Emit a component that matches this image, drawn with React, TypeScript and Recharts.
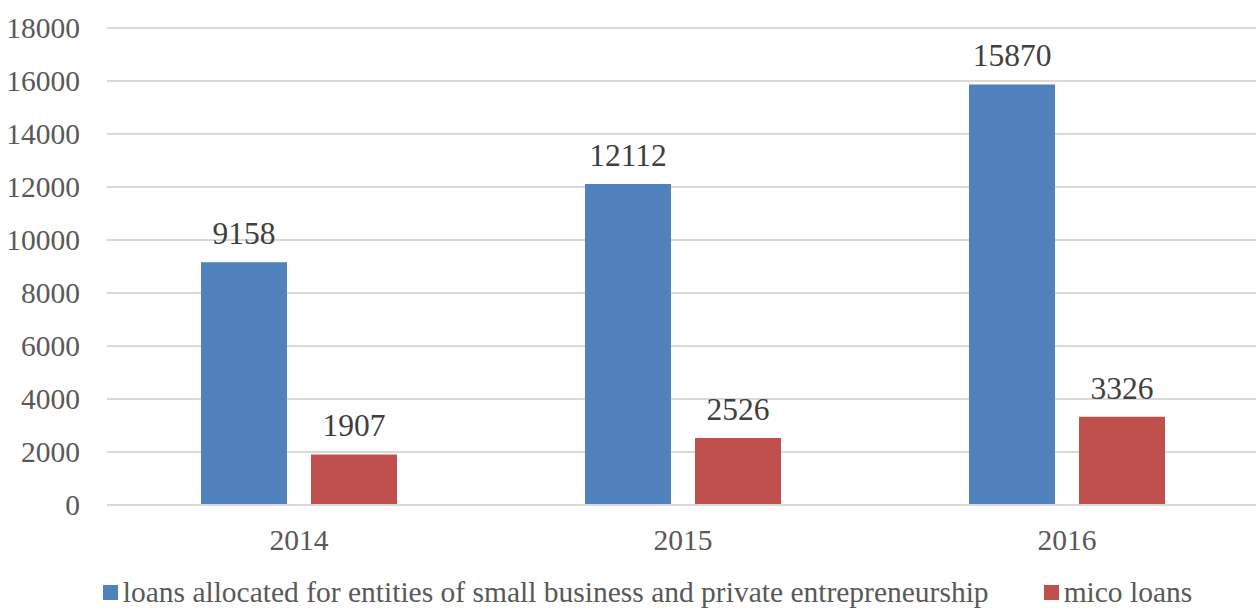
import { BarChart, Bar, XAxis, YAxis, CartesianGrid, Legend, LabelList } from "recharts"

const years = ["2014", "2015", "2016"]
const smallBusinessLoans = [9158, 12112, 15870]
const microLoans = [1907, 2526, 3326]
const yTicks = [0, 2000, 4000, 6000, 8000, 10000, 12000, 14000, 16000, 18000]

const data = years.map((year, i) => ({
  year,
  business: smallBusinessLoans[i],
  micro: microLoans[i],
}))

const font = "Liberation Serif, Times New Roman, serif"

function renderLegend(props: any) {
  const { payload } = props
  return (
    <div
      style={{
        display: "flex",
        justifyContent: "center",
        gap: 55,
        fontFamily: font,
        fontSize: 29.5,
        lineHeight: "34px",
        color: "#595959",
        paddingLeft: 36,
        paddingTop: 20,
      }}
    >
      {payload.map((entry: any) => (
        <div key={entry.value} style={{ display: "flex", alignItems: "center" }}>
          <span style={{ display: "inline-block", width: 15, height: 15, background: entry.color, marginRight: 5 }} />
          <span>{entry.value}</span>
        </div>
      ))}
    </div>
  )
}

export default function App() {
  return (
    <div style={{ position: "absolute", left: 0, top: 0, background: "#fff", fontFamily: font }}>
      <BarChart
        width={1256}
        height={610}
        data={data}
        barSize={86}
        barGap={24}
        margin={{ top: 28, right: -3, left: 0, bottom: 0 }}
      >
        <CartesianGrid vertical={false} stroke="#D9D9D9" strokeWidth={2} />
        <XAxis
          dataKey="year"
          axisLine={{ stroke: "#D9D9D9", strokeWidth: 2 }}
          tickLine={false}
          tickSize={0}
          tickMargin={24}
          height={50}
          tick={{ fill: "#595959", fontFamily: font, fontSize: 29.5 }}
        />
        <YAxis
          width={107}
          domain={[0, 18000]}
          ticks={yTicks}
          axisLine={false}
          tickLine={false}
          tickSize={0}
          tickMargin={27}
          tick={{ fill: "#595959", fontFamily: font, fontSize: 29.5 }}
        />
        <Legend verticalAlign="bottom" height={55} content={renderLegend} />
        <Bar
          dataKey="business"
          name="loans allocated for entities of small business and private entrepreneurship"
          fill="#4F81BD"
          isAnimationActive={false}
        >
          <LabelList dataKey="business" position="top" offset={18} fill="#404040" fontFamily={font} fontSize={31.5} />
        </Bar>
        <Bar dataKey="micro" name="mico loans" fill="#C0504D" isAnimationActive={false}>
          <LabelList dataKey="micro" position="top" offset={18} fill="#404040" fontFamily={font} fontSize={31.5} />
        </Bar>
      </BarChart>
    </div>
  )
}
